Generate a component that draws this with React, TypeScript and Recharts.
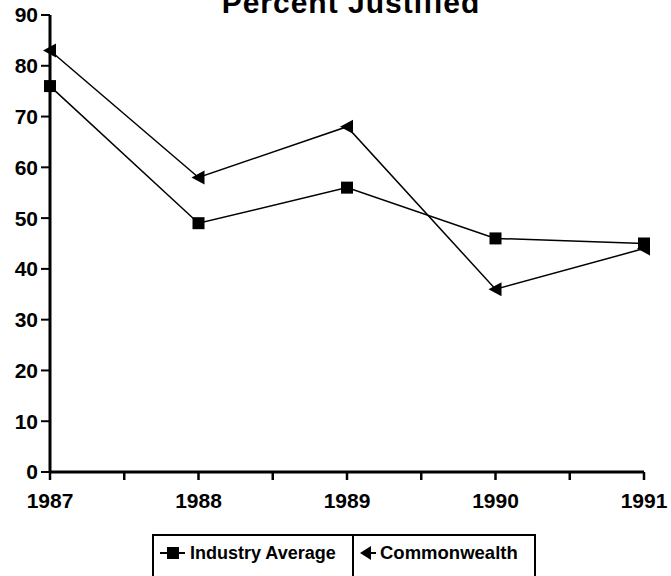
import React from 'react';
import { LineChart, Line, XAxis, YAxis } from 'recharts';

const years = [1987, 1988, 1989, 1990, 1991];
const industryAverage = [76, 49, 56, 46, 45];
const commonwealth = [83, 58, 68, 36, 44];
const xTicks = [1987, 1987.5, 1988, 1988.5, 1989, 1989.5, 1990, 1990.5, 1991];
const yTicks = [0, 10, 20, 30, 40, 50, 60, 70, 80, 90];
const seriesNames = ['Industry Average', 'Commonwealth'];
const title = 'Percent Justified';

const data = years.map((y, i) => ({
  year: y,
  industry: industryAverage[i],
  commonwealth: commonwealth[i],
}));

const FONT = '"Liberation Sans", Arial, sans-serif';

const SquareDot = (props: any) => {
  const { cx, cy, index } = props;
  if (cx == null || cy == null) return null;
  return <rect key={`sq-${index}`} x={cx - 6} y={cy - 6} width={12} height={12} fill="#000" />;
};

const TriangleDot = (props: any) => {
  const { cx, cy, index } = props;
  if (cx == null || cy == null) return null;
  return (
    <polygon
      key={`tr-${index}`}
      points={`${cx - 7},${cy} ${cx + 6},${cy - 7} ${cx + 6},${cy + 7}`}
      fill="#000"
    />
  );
};

export default function App() {
  return (
    <div style={{ position: 'absolute', left: 0, top: 0, width: 671, height: 576, background: '#fff', fontFamily: FONT }}>
      <LineChart width={671} height={576} data={data} margin={{ top: 15, right: 27, bottom: 0, left: 0 }}>
        <XAxis
          dataKey="year"
          type="number"
          domain={[1987, 1991]}
          ticks={xTicks}
          interval={0}
          height={104}
          tickSize={8}
          tickMargin={13}
          tickFormatter={(v: number) => (Number.isInteger(v) ? String(v) : '')}
          axisLine={{ stroke: '#000', strokeWidth: 3 }}
          tickLine={{ stroke: '#000', strokeWidth: 2.5 }}
          tick={{ fill: '#000', fontSize: 21, fontWeight: 'bold', fontFamily: FONT }}
        />
        <YAxis
          type="number"
          domain={[0, 90]}
          ticks={yTicks}
          interval={0}
          width={50}
          tickSize={9}
          tickMargin={3}
          axisLine={{ stroke: '#000', strokeWidth: 3 }}
          tickLine={{ stroke: '#000', strokeWidth: 2 }}
          tick={{ fill: '#000', fontSize: 21, fontWeight: 'bold', fontFamily: FONT }}
        />
        <Line
          type="linear"
          dataKey="industry"
          name={seriesNames[0]}
          stroke="#000"
          strokeWidth={1.5}
          dot={SquareDot}
          activeDot={false}
          isAnimationActive={false}
        />
        <Line
          type="linear"
          dataKey="commonwealth"
          name={seriesNames[1]}
          stroke="#000"
          strokeWidth={1.5}
          dot={TriangleDot}
          activeDot={false}
          isAnimationActive={false}
        />
      </LineChart>
      <svg
        width={671}
        height={576}
        style={{ position: 'absolute', left: 0, top: 0, pointerEvents: 'none' }}
      >
        <text x={351} y={13} textAnchor="middle" fontSize={30} fontWeight="bold" letterSpacing={1} fontFamily={FONT} fill="#000">
          {title}
        </text>
        <rect x={153} y={535} width={382} height={60} fill="none" stroke="#000" strokeWidth={2} />
        <line x1={353} y1={535} x2={353} y2={576} stroke="#000" strokeWidth={2} />
        <line x1={160} y1={553} x2={185} y2={553} stroke="#000" strokeWidth={2} />
        <rect x={167} y={547} width={12} height={12} fill="#000" />
        <text x={190} y={559} fontSize={18} fontWeight="bold" fontFamily={FONT} fill="#000">
          {seriesNames[0]}
        </text>
        <line x1={362} y1={553} x2={376} y2={553} stroke="#000" strokeWidth={2} />
        <polygon points="360,553 371,546 371,560" fill="#000" />
        <text x={380} y={559} fontSize={18.5} fontWeight="bold" fontFamily={FONT} fill="#000">
          {seriesNames[1]}
        </text>
      </svg>
    </div>
  );
}
